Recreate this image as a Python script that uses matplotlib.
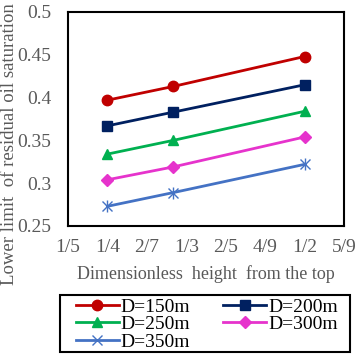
import matplotlib
matplotlib.use("Agg")
import matplotlib.pyplot as plt
from matplotlib.patches import Rectangle
from matplotlib.ticker import FixedLocator, FixedFormatter

x_vals = [0.25, 1/3, 0.5]
series_names = ["D=150m", "D=200m", "D=250m", "D=300m", "D=350m"]
s150 = [0.397, 0.413, 0.448]
s200 = [0.367, 0.383, 0.415]
s250 = [0.334, 0.350, 0.384]
s300 = [0.304, 0.319, 0.354]
s350 = [0.273, 0.289, 0.322]
x_ticks = [0.20, 0.25, 0.30, 0.35, 0.40, 0.45, 0.50, 0.55]
x_tick_labels = ["1/5", "1/4", "2/7", "1/3", "2/5", "4/9", "1/2", "5/9"]
y_ticks = [0.25, 0.30, 0.35, 0.40, 0.45, 0.50]
y_tick_labels = ["0.25", "0.3", "0.35", "0.4", "0.45", "0.5"]

plt.rcParams['font.family'] = ['Liberation Serif', 'DejaVu Serif']
grey = '#595959'
fs = 14

fig = plt.figure(figsize=(3.63, 3.57), dpi=100)
ax = fig.add_axes([68/363, 1-226/357, (344-68)/363, (226-12)/357])

colors = ['#C00000', '#002060', '#00B050', '#E633CC', '#4472C4']
markers = ['o', 's', '^', 'D', 'x']
msizes = [7.5, 6.5, 7, 6.5, 7]
for ys, name, c, m, ms in zip([s150, s200, s250, s300, s350], series_names, colors, markers, msizes):
    kw = dict(color=c, lw=2, marker=m, markersize=ms, label=name)
    if m == 'x':
        kw.update(markeredgewidth=1.0)
        ax.plot(x_vals, ys, **kw)
        ax.plot(x_vals, ys, color=c, lw=0, marker='|', markersize=ms + 2, markeredgewidth=1.0)
    else:
        ax.plot(x_vals, ys, **kw)

ax.set_xlim(0.2, 0.55)
ax.set_ylim(0.25, 0.5)
ax.xaxis.set_major_locator(FixedLocator(x_ticks))
ax.xaxis.set_major_formatter(FixedFormatter(x_tick_labels))
ax.yaxis.set_major_locator(FixedLocator(y_ticks))
ax.yaxis.set_major_formatter(FixedFormatter(y_tick_labels))
ax.tick_params(axis='both', length=0, labelsize=fs, colors=grey)
ax.tick_params(axis='x', pad=9)
ax.tick_params(axis='y', pad=12)
for s in ax.spines.values():
    s.set_linewidth(1.5)
    s.set_color('black')

ax.set_xlabel("Dimensionless  height  from the top", fontsize=13, color=grey, labelpad=7)
fig.text(0.003, 1-285/357, "Lower limit  of residual oil saturation", rotation=90,
         ha='left', va='bottom', fontsize=13.5, color=grey)

# legend frame
fig.patches.append(Rectangle((60/363, 1-352/357), (350-60)/363, 57/357, transform=fig.transFigure,
                             fill=False, edgecolor='black', linewidth=1.5))
handles, labels = ax.get_legend_handles_labels()
order = [0, 2, 4, 1, 3]
leg = fig.legend([handles[i] for i in order], [labels[i] for i in order], loc='upper left',
                 bbox_to_anchor=(76/363, 1-298/357), ncol=2, fontsize=fs, frameon=False,
                 borderpad=0.0, borderaxespad=0, labelspacing=0.0, handlelength=2.2,
                 handletextpad=0.1, columnspacing=1.7)

fig.savefig("out.png", dpi=100)
